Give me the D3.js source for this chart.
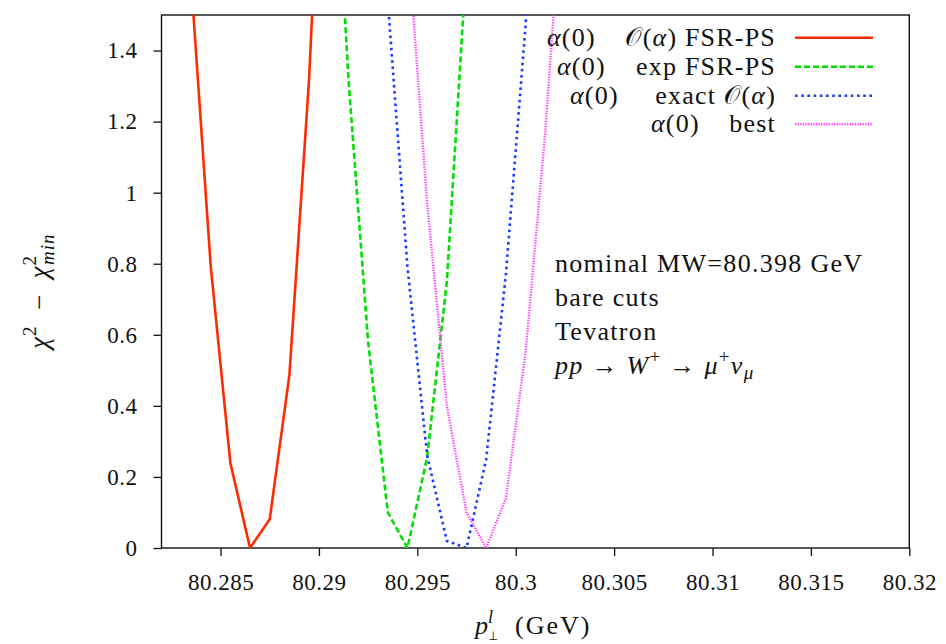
<!DOCTYPE html>
<html><head><meta charset="utf-8">
<script src="https://cdn.jsdelivr.net/npm/d3@7"></script>
<style>
body{margin:0;background:#fff}
svg{display:block}
svg text{font-family:"Liberation Serif","Tinos","Times New Roman","Nimbus Roman","FreeSerif","Noto Serif","DejaVu Serif",serif !important;fill:#111}
</style>
</head><body>
<svg id="c" width="946" height="644"></svg>
<script>
// ---- data ----
const xTickValues = [80.285, 80.29, 80.295, 80.3, 80.305, 80.31, 80.315, 80.32];
const xTickLabels = ["80.285", "80.29", "80.295", "80.3", "80.305", "80.31", "80.315", "80.32"];
const yTickValues = [0, 0.2, 0.4, 0.6, 0.8, 1, 1.2, 1.4];
const yTickLabels = ["0", "0.2", "0.4", "0.6", "0.8", "1", "1.2", "1.4"];

const fsrX  = [80.2835, 80.2845, 80.2855, 80.2865, 80.2875, 80.2885, 80.2895, 80.2905];
const fsrY  = [1.60, 0.794, 0.239, 0.0, 0.081, 0.487, 1.32, 2.5];

const expX  = [80.2905, 80.2915, 80.2925, 80.2935, 80.2945, 80.2955, 80.2965, 80.2975];
const expY  = [2.3, 1.32, 0.58, 0.10, 0.0, 0.256, 0.75, 1.65];

const exactX = [80.2925, 80.2935, 80.2945, 80.2955, 80.2965, 80.2975, 80.2985, 80.2995, 80.3005, 80.3015];
const exactY = [2.4, 1.54, 0.79, 0.26, 0.02, 0.0, 0.25, 0.77, 1.47, 2.4];

const bestX = [80.2935, 80.2945, 80.2955, 80.2965, 80.2975, 80.2985, 80.2995, 80.3005, 80.3015, 80.3025];
const bestY = [2.6, 1.72, 0.97, 0.40, 0.10, 0.0, 0.14, 0.55, 1.17, 1.95];

const seriesNames = ["O(α) FSR-PS", "exp FSR-PS", "exact O(α)", "best"];
const seriesColors = ["#ff2a00", "#00e000", "#1a3cff", "#ff40ff"];

// ---- layout ----
const L = 161.5, R = 909.3, T = 15, B = 548;
const FONT = '"Liberation Serif","Tinos","Times New Roman","Nimbus Roman","FreeSerif","Noto Serif","DejaVu Serif",serif';
const svg = d3.select("#c");
const x = d3.scaleLinear().domain([80.282, 80.32]).range([L, R]);
const y = d3.scaleLinear().domain([0, 1.5]).range([B, T]);

svg.append("defs").append("clipPath").attr("id", "clip")
  .append("rect").attr("x", L).attr("y", T).attr("width", R - L).attr("height", B - T);

// axes
const xa = svg.append("g").attr("transform", `translate(0,${B})`)
  .call(d3.axisBottom(x).tickValues(xTickValues).tickSize(8).tickPadding(18)
    .tickFormat((d, i) => xTickLabels[i]));
const ya = svg.append("g").attr("transform", `translate(${L},0)`)
  .call(d3.axisLeft(y).tickValues(yTickValues).tickSize(8).tickPadding(16)
    .tickFormat((d, i) => yTickLabels[i]));
[xa, ya].forEach(g => {
  g.attr("font-family", FONT);
  g.select(".domain").remove();
  g.selectAll(".tick line").attr("stroke", "#111").attr("stroke-width", 1.3);
  g.selectAll(".tick text").attr("font-family", FONT).style("font-size", "23px")
    .style("letter-spacing", "0.5px").attr("fill", "#111");
});

// frame
svg.append("rect").attr("x", L).attr("y", T).attr("width", R - L).attr("height", B - T)
  .attr("fill", "none").attr("stroke", "#111").attr("stroke-width", 1.4);

// curves
const styles = [
  {w: 2.6, dash: null},
  {w: 2.6, dash: "6,3"},
  {w: 2.6, dash: "2.6,3.6"},
  {w: 2.4, dash: "1.3,1.3"}
];
const data = [[fsrX, fsrY], [expX, expY], [exactX, exactY], [bestX, bestY]];
const line = d3.line().x(d => x(d[0])).y(d => y(d[1]));
const plot = svg.append("g").attr("clip-path", "url(#clip)");
data.forEach((s, i) => {
  const pts = s[0].map((v, k) => [v, s[1][k]]);
  const p = plot.append("path").datum(pts).attr("d", line)
    .attr("fill", "none").attr("stroke", seriesColors[i])
    .attr("stroke-width", styles[i].w).attr("stroke-linejoin", "miter");
  if (styles[i].dash) p.attr("stroke-dasharray", styles[i].dash);
});

// legend
const legY = [37.7, 66.7, 95.7, 124.3];
const legA = [547, 557, 570, 651];
const leg = svg.append("g").style("font-size", "26px").style("letter-spacing", "1.2px");
const legendRest = [
  t => { t.append("tspan").text("𝒪("); t.append("tspan").text("α").style("font-style","italic"); t.append("tspan").text(") FSR-PS"); },
  t => { t.append("tspan").text("exp FSR-PS"); },
  t => { t.append("tspan").text("exact 𝒪("); t.append("tspan").text("α").style("font-style","italic"); t.append("tspan").text(")"); },
  t => { t.append("tspan").text("best"); }
];
seriesNames.forEach((n, i) => {
  const a = leg.append("text").attr("x", legA[i]).attr("y", legY[i] + 8);
  a.append("tspan").text("α").style("font-style", "italic");
  a.append("tspan").text("(0)");
  const t = leg.append("text").attr("x", 776).attr("y", legY[i] + 8).attr("text-anchor", "end");
  legendRest[i](t);
  const l = leg.append("line").attr("x1", 795).attr("x2", 873).attr("y1", legY[i]).attr("y2", legY[i])
    .attr("stroke", seriesColors[i]).attr("stroke-width", styles[i].w);
  if (styles[i].dash) l.attr("stroke-dasharray", styles[i].dash);
});

// annotations
const ann = svg.append("g").style("font-size", "26px").style("letter-spacing", "1.3px");
ann.append("text").attr("x", 555).attr("y", 272).text("nominal MW=80.398 GeV");
ann.append("text").attr("x", 555).attr("y", 306).text("bare cuts");
ann.append("text").attr("x", 555).attr("y", 340).text("Tevatron");
const a4 = ann.append("text").attr("x", 555).attr("y", 374).style("white-space", "pre");
a4.append("tspan").text("pp").style("font-style","italic");
a4.append("tspan").text(" → ");
a4.append("tspan").text("W").style("font-style","italic");
a4.append("tspan").text("+").attr("dy", -11).style("font-size","19px");
a4.append("tspan").text(" → ").attr("dy", 11);
a4.append("tspan").text("μ").style("font-style","italic");
a4.append("tspan").text("+").attr("dy", -11).style("font-size","19px");
a4.append("tspan").text("ν").style("font-style","italic").attr("dy", 11);
a4.append("tspan").text("μ").style("font-style","italic").style("font-size","19px").attr("dy", 5);

// x label
const xl = svg.append("text").attr("x", 475).attr("y", 634).style("font-size", "26px").style("white-space","pre");
xl.append("tspan").text("p").style("font-style","italic");
xl.append("tspan").text("l").style("font-style","italic").style("font-size","18px").attr("dy", -11);
xl.append("tspan").text("⊥").style("font-size","13px").attr("dx", -4).attr("dy", 17);
xl.append("tspan").text("(GeV)").attr("x", 515).attr("dy", -6).style("letter-spacing", "2px");

// y label
const yl = svg.append("text").attr("transform", "translate(48,349) rotate(-90)")
  .style("font-size", "27px").style("white-space","pre").style("letter-spacing", "1px");
yl.append("tspan").text("χ").style("font-style","italic");
yl.append("tspan").text("2").style("font-size","19px").attr("dy", -12);
yl.append("tspan").text("  −  ").attr("dy", 12);
yl.append("tspan").text("χ").style("font-style","italic");
yl.append("tspan").text("2").style("font-size","19px").attr("dy", -12);
yl.append("tspan").text("min").style("font-size","19px").style("font-style","italic").attr("dx", -10).attr("dy", 18);
</script>
</body></html>
